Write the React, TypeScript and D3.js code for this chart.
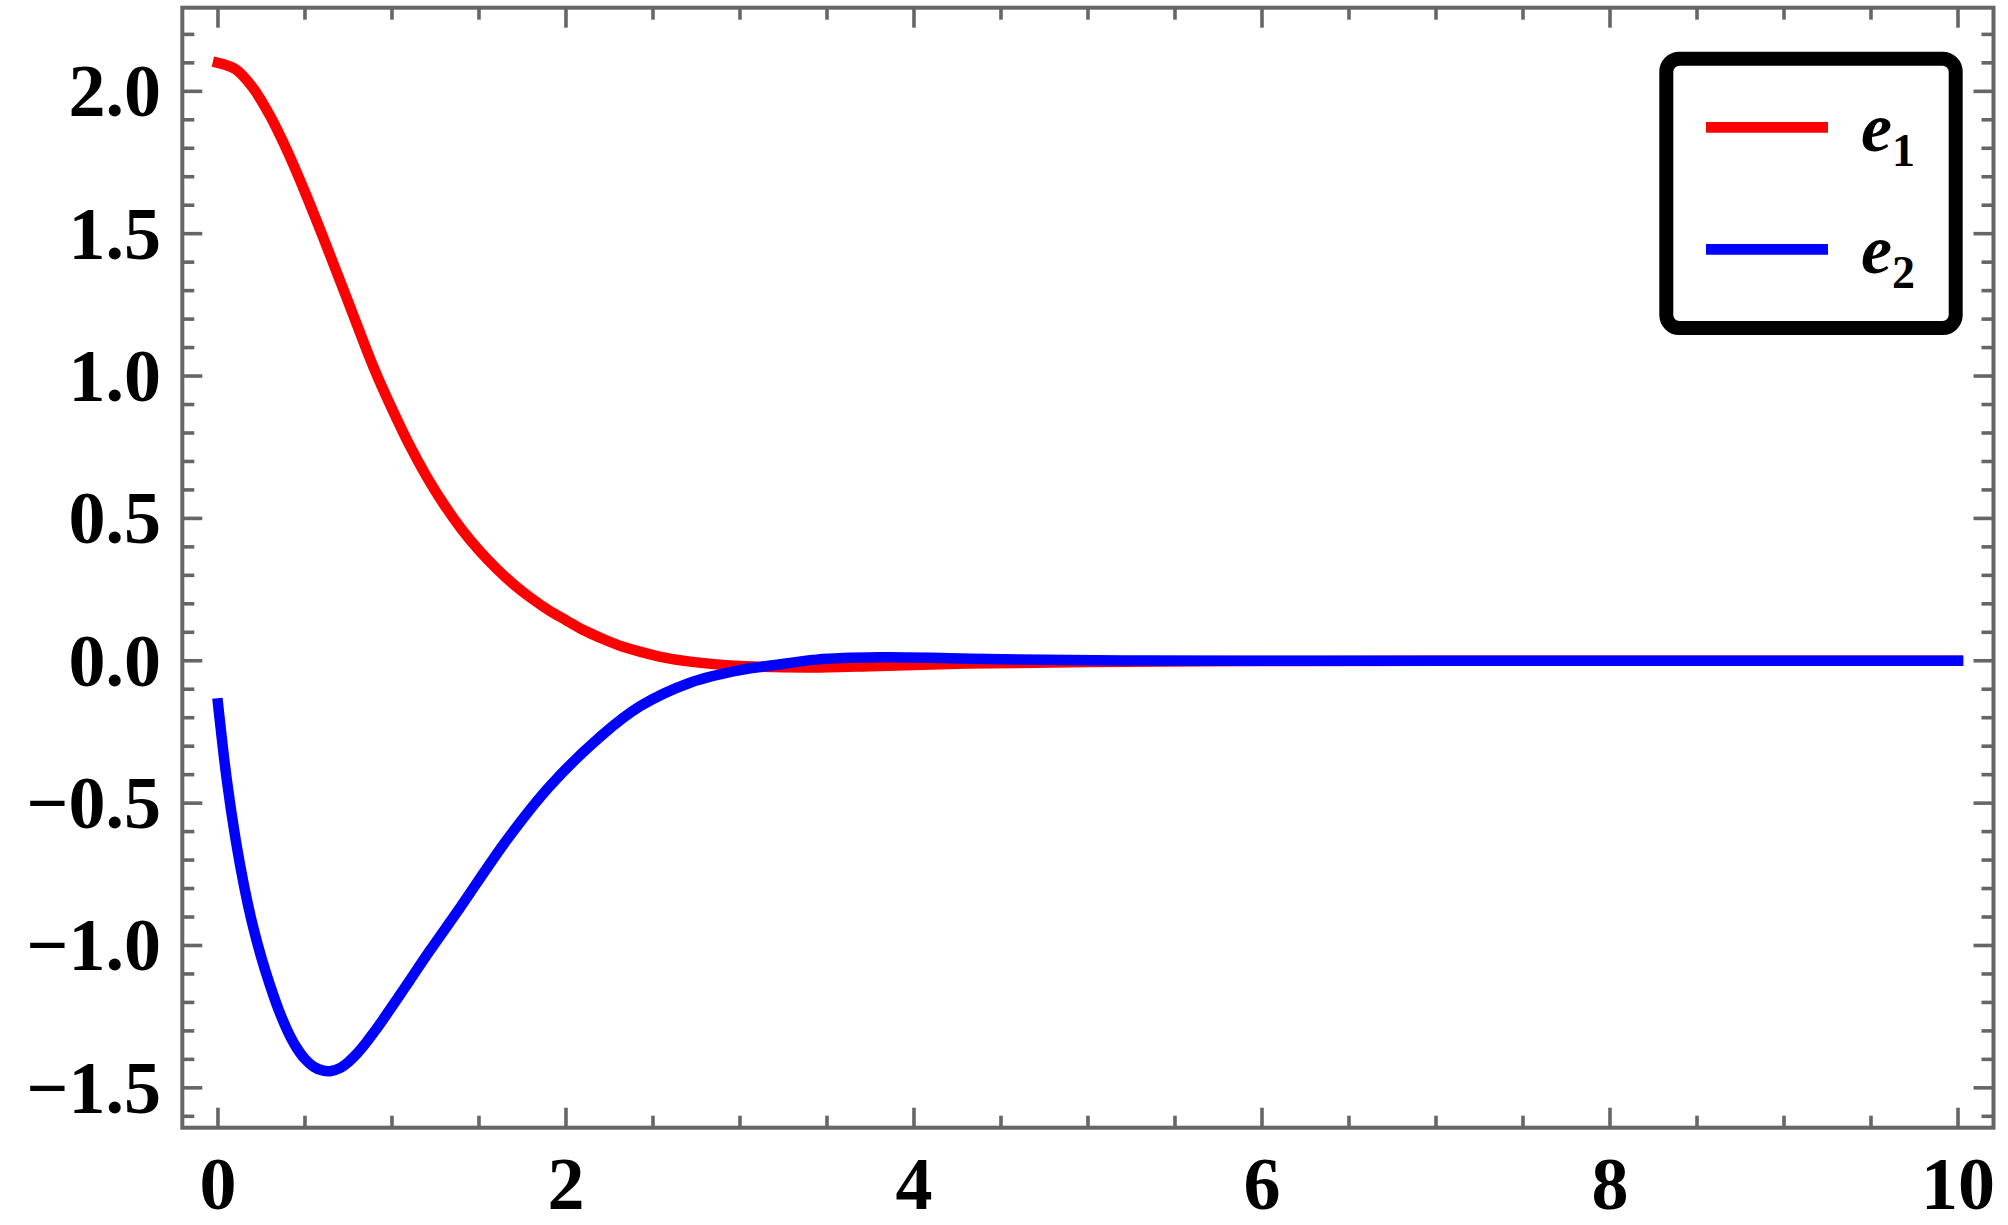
import React from "react";
import * as d3 from "d3";

// ---- data (smoothed readings) ----
const e1X = [0, 0.1, 0.2, 0.3, 0.4, 0.5, 0.6, 0.7, 0.8, 0.9, 1.0, 1.1, 1.2, 1.3, 1.4, 1.5, 1.6, 1.7, 1.8, 1.9, 2.0, 2.1, 2.2, 2.3, 2.425, 2.55, 2.713, 3.0, 3.38, 3.8, 4.3, 5.0, 6.0, 7.0, 8.5, 10];
const e1Y = [2.10, 2.078, 2.013, 1.913, 1.788, 1.646, 1.494, 1.337, 1.178, 1.022, 0.885, 0.758, 0.646, 0.548, 0.462, 0.388, 0.324, 0.268, 0.220, 0.178, 0.1425, 0.108, 0.080, 0.055, 0.032, 0.013, -0.003, -0.018, -0.024, -0.018, -0.010, -0.004, -0.001, 0, 0, 0];

const e2X = [0, 0.05, 0.1, 0.15, 0.2, 0.25, 0.3, 0.35, 0.4, 0.45, 0.5, 0.55, 0.6, 0.65, 0.7, 0.75, 0.8, 0.85, 0.9, 0.95, 1.0, 1.05, 1.1, 1.218, 1.387, 1.659, 1.908, 2.2, 2.425, 2.713, 3.0, 3.19, 3.44, 3.8, 4.2, 4.6, 5.2, 6.0, 8.0, 10];
const e2Y = [-0.15, -0.415, -0.6225, -0.791, -0.930, -1.044, -1.1415, -1.228, -1.300, -1.357, -1.399, -1.426, -1.439, -1.441, -1.431, -1.409, -1.379, -1.3425, -1.302, -1.259, -1.2145, -1.1695, -1.1245, -1.018, -0.871, -0.63, -0.44, -0.265, -0.16, -0.077, -0.033, -0.016, 0.004, 0.012, 0.009, 0.004, 0.001, 0, 0, 0];

const xMajorTicks = [0, 2, 4, 6, 8, 10];
const xTickLabels = ["0", "2", "4", "6", "8", "10"];
const yMajorTicks = [-1.5, -1.0, -0.5, 0.0, 0.5, 1.0, 1.5, 2.0];
const yTickLabels = ["\u22121.5", "\u22121.0", "\u22120.5", "0.0", "0.5", "1.0", "1.5", "2.0"];
const seriesNames = ["1", "2"];
const seriesColors = ["#ff0000", "#0000ff"];

// ---- layout ----
const W = 2008;
const H = 1225;
const left = 182.3, right = 1993.5, top = 7.7, bottom = 1127.7;
const xDomain: [number, number] = [-0.205, 10.204];
const yDomain: [number, number] = [-1.640, 2.2937];
const frameColor = "#666666";
const serif = "Liberation Serif";

export default function App() {
  const x = d3.scaleLinear().domain(xDomain).range([left, right]);
  const y = d3.scaleLinear().domain(yDomain).range([bottom, top]);

  const xMinor = d3.range(0, 10.001, 0.5).filter((v) => Math.abs(v / 2 - Math.round(v / 2)) > 1e-6);
  const yMinor = d3.range(-1.6, 2.2501, 0.1).map((v) => Math.round(v * 10) / 10)
    .filter((v) => Math.abs(v * 2 - Math.round(v * 2)) > 1e-6);

  const line = d3.line<[number, number]>()
    .x((d) => x(d[0]))
    .y((d) => y(d[1]))
    .curve(d3.curveCatmullRom.alpha(0.5));

  const d1 = line(e1X.map((v, i) => [v, e1Y[i]] as [number, number])) || "";
  const d2 = line(e2X.map((v, i) => [v, e2Y[i]] as [number, number])) || "";

  const majorLen = 20, minorLen = 12, tickW = 3.6;

  return (
    <svg width={W} height={H} style={{ position: "absolute", left: 0, top: 0, background: "#fff" }}>
      <rect x={0} y={0} width={W} height={H} fill="#fff" />
      {/* curves */}
      <g fill="none" strokeWidth={10.5} strokeLinecap="square" strokeLinejoin="round">
        <path d={d1} stroke={seriesColors[0]} />
        <path d={d2} stroke={seriesColors[1]} />
      </g>
      {/* ticks */}
      <g stroke={frameColor} strokeWidth={tickW}>
        {xMajorTicks.map((v) => (
          <g key={"xm" + v}>
            <line x1={x(v)} x2={x(v)} y1={bottom} y2={bottom - majorLen} />
            <line x1={x(v)} x2={x(v)} y1={top} y2={top + majorLen} />
          </g>
        ))}
        {xMinor.map((v) => (
          <g key={"xn" + v}>
            <line x1={x(v)} x2={x(v)} y1={bottom} y2={bottom - minorLen} />
            <line x1={x(v)} x2={x(v)} y1={top} y2={top + minorLen} />
          </g>
        ))}
        {yMajorTicks.map((v) => (
          <g key={"ym" + v}>
            <line x1={left} x2={left + majorLen} y1={y(v)} y2={y(v)} />
            <line x1={right} x2={right - majorLen} y1={y(v)} y2={y(v)} />
          </g>
        ))}
        {yMinor.map((v) => (
          <g key={"yn" + v}>
            <line x1={left} x2={left + minorLen} y1={y(v)} y2={y(v)} />
            <line x1={right} x2={right - minorLen} y1={y(v)} y2={y(v)} />
          </g>
        ))}
      </g>
      {/* frame */}
      <rect x={left} y={top} width={right - left} height={bottom - top} fill="none" stroke={frameColor} strokeWidth={4} />
      {/* tick labels */}
      <g fontFamily={serif} fontWeight="bold" fontSize={74} fill="#000">
        {yMajorTicks.map((v, i) => (
          <text key={"yl" + v} x={161} y={y(v) + 25} textAnchor="end">{yTickLabels[i]}</text>
        ))}
        {xMajorTicks.map((v, i) => (
          <text key={"xl" + v} x={x(v)} y={1209} textAnchor="middle">{xTickLabels[i]}</text>
        ))}
      </g>
      {/* legend */}
      <rect x={1666.3} y={58.7} width={289.4} height={269.3} rx={13} ry={13} fill="#fff" stroke="#000" strokeWidth={14} />
      {seriesNames.map((n, i) => {
        const cy = 127.3 + i * 122;
        return (
          <g key={"lg" + n}>
            <line x1={1706} x2={1828} y1={cy} y2={cy} stroke={seriesColors[i]} strokeWidth={10.7} />
            <text x={1861} y={cy + 23.5} fontFamily={serif} fontWeight="bold" fontStyle="italic" fontSize={70} fill="#000">
              e<tspan fontStyle="normal" fontSize={46} dy={15}>{n}</tspan>
            </text>
          </g>
        );
      })}
    </svg>
  );
}
